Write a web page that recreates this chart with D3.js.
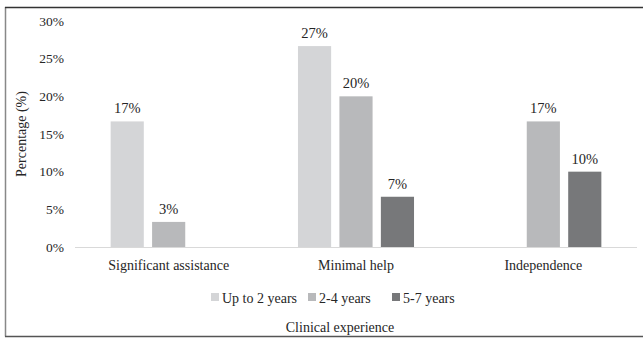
<!DOCTYPE html>
<meta charset="utf-8">
<style>
    body { margin: 0; background: #fff; }
    text { font-family: "Liberation Serif", "Times New Roman", serif; fill: #262626; }
</style>
<script src="https://d3js.org/d3.v7.min.js"></script>
<body>
<script>

    // data
    var categories = ["Significant assistance", "Minimal help", "Independence"]
    var seriesNames = ["Up to 2 years", "2-4 years", "5-7 years"]
    var upTo2 = [16.67, 26.67, 0]
    var y2to4 = [3.33, 20, 16.67]
    var y5to7 = [0, 6.67, 10]
    var yTicks = [0, 5, 10, 15, 20, 25, 30]
    var colors = ["#d4d5d7", "#b8b9bb", "#77787a"]

    var values = [upTo2, y2to4, y5to7]

    var width = 643
    var height = 338

    var svg = d3.select("body")
        .append("svg")
        .attr("width", width)
        .attr("height", height)

    // outer frame
    svg.append("line")
        .attr("x1", 5.5).attr("y1", 7).attr("x2", 5.5).attr("y2", 336.5)
        .attr("stroke", "#888").attr("stroke-width", 1.5)
    svg.append("line")
        .attr("x1", 5).attr("y1", 7.5).attr("x2", width).attr("y2", 7.5)
        .attr("stroke", "#333").attr("stroke-width", 1.5)
    svg.append("line")
        .attr("x1", 5).attr("y1", 336.5).attr("x2", width).attr("y2", 336.5)
        .attr("stroke", "#555").attr("stroke-width", 1.5)

    var x0 = d3.scaleBand()
        .domain(categories)
        .range([75, 637])

    var x1 = d3.scaleBand()
        .domain(seriesNames)
        .range([0, x0.bandwidth()])
        .paddingInner(0.2)
        .paddingOuter(0.86)

    var y = d3.scaleLinear()
        .domain([0, 30])
        .range([247, 21])

    // y tick labels
    svg.selectAll(".ytick")
        .data(yTicks)
        .enter()
        .append("text")
        .attr("class", "ytick")
        .attr("x", 64)
        .attr("y", function (d) { return y(d) })
        .attr("dy", "0.35em")
        .attr("text-anchor", "end")
        .attr("font-size", "13.5px")
        .text(function (d) { return d + "%" })

    // baseline
    svg.append("line")
        .attr("x1", 75).attr("x2", 637)
        .attr("y1", y(0) + 0.5).attr("y2", y(0) + 0.5)
        .attr("stroke", "#d9d9d9")
        .attr("stroke-width", 1)

    // bars
    var bars = []
    seriesNames.forEach(function (s, i) {
        categories.forEach(function (c, j) {
            if (values[i][j] > 0) bars.push({ series: s, cat: c, value: values[i][j], idx: i })
        })
    })

    svg.selectAll(".bar")
        .data(bars)
        .enter()
        .append("rect")
        .attr("class", "bar")
        .attr("x", function (d) { return x0(d.cat) + x1(d.series) })
        .attr("y", function (d) { return y(d.value) })
        .attr("width", x1.bandwidth())
        .attr("height", function (d) { return y(0) - y(d.value) })
        .attr("fill", function (d) { return colors[d.idx] })

    svg.selectAll(".vlabel")
        .data(bars)
        .enter()
        .append("text")
        .attr("class", "vlabel")
        .attr("x", function (d) { return x0(d.cat) + x1(d.series) + x1.bandwidth() / 2 })
        .attr("y", function (d) { return y(d.value) - 8 })
        .attr("text-anchor", "middle")
        .attr("font-size", "14.5px")
        .text(function (d) { return Math.round(d.value) + "%" })

    // category labels
    svg.selectAll(".xlabel")
        .data(categories)
        .enter()
        .append("text")
        .attr("class", "xlabel")
        .attr("x", function (d) { return x0(d) + x0.bandwidth() / 2 })
        .attr("y", 270)
        .attr("text-anchor", "middle")
        .attr("font-size", "14px")
        .text(function (d) { return d })

    // y axis title
    svg.append("text")
        .attr("transform", "translate(26," + (y(0) + y(30)) / 2 + ") rotate(-90)")
        .attr("text-anchor", "middle")
        .attr("font-size", "14px")
        .text("Percentage (%)")

    // legend
    var legendX = [211, 308, 392]
    var legend = svg.selectAll(".legend")
        .data(seriesNames)
        .enter()
        .append("g")
        .attr("class", "legend")
        .attr("transform", function (d, i) { return "translate(" + legendX[i] + ",293)" })

    legend.append("rect")
        .attr("width", 8)
        .attr("height", 8)
        .attr("fill", function (d, i) { return colors[i] })

    legend.append("text")
        .attr("x", 11)
        .attr("y", 10)
        .attr("font-size", "14px")
        .text(function (d) { return d })

    svg.append("text")
        .attr("x", 340)
        .attr("y", 332)
        .attr("text-anchor", "middle")
        .attr("font-size", "14px")
        .text("Clinical experience")

</script>
